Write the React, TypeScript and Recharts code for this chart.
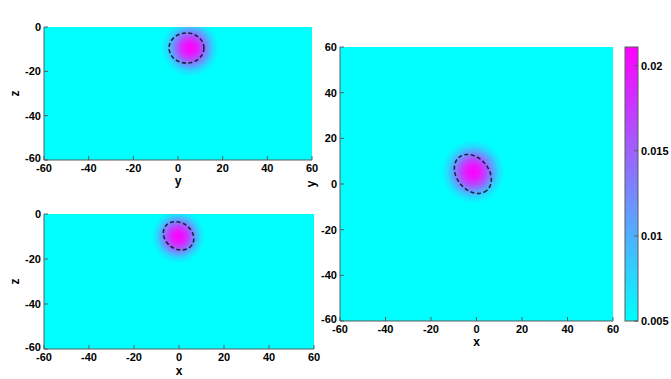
import React from 'react';
import { ScatterChart, Scatter, XAxis, YAxis, ReferenceArea } from 'recharts';

const FONT = '"Liberation Sans", Arial, Helvetica, sans-serif';
const FRAME = '#5a5a5a';

// ticks
const hTicks = [-60, -40, -20, 0, 20, 40, 60];
const zTicks = [-60, -40, -20, 0];
const yTicks = [-60, -40, -20, 0, 20, 40, 60];
const cbTicks = [0.005, 0.01, 0.015, 0.02];
const cbDomain = [0.005, 0.0211];

// panel texts
const titles = ['x=0 Plane', 'y=0 Plane', 'z=-10 Plane'];
const hNames = ['y', 'x', 'x'];
const vNames = ['z', 'z', 'y'];

// intensity blob (peak position and extent, data units)
const blobCH = [5.5, -0.3, -1.5];
const blobCV = [-9.5, -10, 5.3];
const blobR = [13, 12, 14];
const blobPeak = [0.0211, 0.0211, 0.0211];

// radial profile of the blob: relative radius -> value
const profileR = [0, 0.2, 0.4, 0.6, 0.8, 1];
const profileV = [0.0211, 0.0198, 0.0165, 0.0115, 0.0072, 0.005];

// dashed contour ellipses
const contourCH = [3.8, -0.2, -1.6];
const contourCV = [-9.5, -9.7, 4.4];
const contourA = [7.8, 7.2, 9.5];
const contourB = [6.8, 5.8, 7.0];
const contourAngle = [0, 35, 50];

const cool = (v: number) => {
  let t = (v - cbDomain[0]) / (cbDomain[1] - cbDomain[0]);
  t = Math.max(0, Math.min(1, t));
  return `rgb(${Math.round(255 * t)},${Math.round(255 * (1 - t))},255)`;
};

const tickStyle = { fill: '#000', fontSize: 11, fontWeight: 700, fontFamily: FONT };
const textStyle = { fill: '#000', fontSize: 11, fontWeight: 700, fontFamily: FONT };

const backgroundShape = (i: number) => (p: any) => {
  const { x, y, width, height } = p;
  return (
    <g>
      <defs>
        <clipPath id={`plotClip${i}`}>
          <rect x={x} y={y} width={width} height={height} />
        </clipPath>
      </defs>
      <rect x={x} y={y} width={width} height={height} fill={cool(cbDomain[0])} />
    </g>
  );
};

const blobShape = (i: number) => (p: any) => {
  const { x, y, width, height } = p;
  const id = `blobGrad${i}`;
  const peakScale = blobPeak[i] / profileV[0];
  return (
    <g clipPath={`url(#plotClip${i})`}>
      <defs>
        <radialGradient id={id} cx="50%" cy="50%" r="50%">
          {profileR.map((r, k) => (
            <stop key={k} offset={r} stopColor={cool(profileV[k] * (k === 0 ? peakScale : 1))} />
          ))}
        </radialGradient>
      </defs>
      <ellipse
        cx={x + width / 2}
        cy={y + height / 2}
        rx={Math.abs(width) / 2}
        ry={Math.abs(height) / 2}
        fill={`url(#${id})`}
      />
    </g>
  );
};

const contourShape = (i: number) => (p: any) => {
  const { x, y, width, height } = p;
  const cx = x + width / 2;
  const cy = y + height / 2;
  return (
    <g clipPath={`url(#plotClip${i})`}>
      <ellipse
        cx={cx}
        cy={cy}
        rx={Math.abs(width) / 2}
        ry={Math.abs(height) / 2}
        fill="none"
        stroke="#1c2340"
        strokeWidth={1.6}
        strokeDasharray="4 2.5"
        transform={`rotate(${contourAngle[i]} ${cx} ${cy})`}
      />
    </g>
  );
};

const colorbarShape = (p: any) => {
  const { x, y, width, height } = p;
  const span = cbDomain[1] - cbDomain[0];
  const stops = [cbDomain[0], ...cbTicks.slice(1), cbDomain[1]];
  return (
    <g>
      <defs>
        <linearGradient id="cbGrad" x1="0" y1="1" x2="0" y2="0">
          {stops.map((v, k) => (
            <stop key={k} offset={(v - cbDomain[0]) / span} stopColor={cool(v)} />
          ))}
        </linearGradient>
      </defs>
      <rect x={x} y={y} width={width} height={height} fill="url(#cbGrad)" stroke={FRAME} strokeWidth={1} />
    </g>
  );
};

const LeftTick = (props: any) => {
  const { x, y, payload, textAnchor } = props;
  const lift = payload.value === -60 ? -2 : 0;
  return (
    <text x={x} y={y + lift} dy="0.355em" textAnchor={textAnchor} style={tickStyle}>
      {payload.value}
    </text>
  );
};

type PanelProps = {
  i: number;
  left: number;
  top: number;
  width: number;
  height: number;
  margin: { top: number; right: number; bottom: number; left: number };
  vDomain: number[];
  vTicks: number[];
  titleOff: number;
  hOff: number;
  vOff: number;
};

function Panel({ i, left, top, width, height, margin, vDomain, vTicks, titleOff, hOff, vOff }: PanelProps) {
  const ext = [-60, 60];
  const bottomLabel = (p: any) => {
    const vb = p.viewBox;
    return (
      <text x={vb.x + vb.width / 2} y={vb.y + vb.height - hOff} textAnchor="middle" style={{ ...textStyle, fontSize: 12 }}>
        {hNames[i]}
      </text>
    );
  };
  const leftLabel = (p: any) => {
    const vb = p.viewBox;
    const lx = vb.x + vOff;
    const ly = vb.y + vb.height / 2;
    return (
      <text x={lx} y={ly} textAnchor="middle" transform={`rotate(-90 ${lx} ${ly})`} style={{ ...textStyle, fontSize: 12 }}>
        {vNames[i]}
      </text>
    );
  };
  const titleLabel = (p: any) => {
    const vb = p.viewBox;
    return (
      <text x={vb.x + vb.width / 2 - 1} y={vb.y - titleOff} textAnchor="middle" style={textStyle}>
        {titles[i]}
      </text>
    );
  };
  return (
    <div style={{ position: 'absolute', left, top, width, height }}>
      <ScatterChart width={width} height={height} margin={margin}>
        <ReferenceArea
          xAxisId="b"
          yAxisId="l"
          x1={ext[0]}
          x2={ext[1]}
          y1={vDomain[0]}
          y2={vDomain[1]}
          ifOverflow="hidden"
          shape={backgroundShape(i)}
        />
        <ReferenceArea
          xAxisId="b"
          yAxisId="l"
          x1={blobCH[i] - blobR[i]}
          x2={blobCH[i] + blobR[i]}
          y1={blobCV[i] - blobR[i]}
          y2={blobCV[i] + blobR[i]}
          ifOverflow="visible"
          shape={blobShape(i)}
        />
        <ReferenceArea
          xAxisId="b"
          yAxisId="l"
          x1={contourCH[i] - contourA[i]}
          x2={contourCH[i] + contourA[i]}
          y1={contourCV[i] - contourB[i]}
          y2={contourCV[i] + contourB[i]}
          ifOverflow="visible"
          shape={contourShape(i)}
        />
        <Scatter
          xAxisId="b"
          yAxisId="l"
          data={[{ h: blobCH[i], v: blobCV[i] }]}
          fill="none"
          isAnimationActive={false}
        />
        <XAxis
          xAxisId="b"
          type="number"
          dataKey="h"
          domain={ext}
          ticks={hTicks}
          interval={0}
          allowDataOverflow
          height={30}
          tickSize={-4}
          tickMargin={8}
          axisLine={{ stroke: FRAME }}
          tickLine={{ stroke: FRAME }}
          tick={tickStyle}
          label={bottomLabel}
        />
        <XAxis
          xAxisId="t"
          orientation="top"
          type="number"
          domain={ext}
          ticks={hTicks}
          interval={0}
          allowDataOverflow
          height={0}
          tickSize={-4}
          tick={false}
          axisLine={{ stroke: FRAME }}
          tickLine={{ stroke: FRAME }}
          label={titleLabel}
        />
        <YAxis
          yAxisId="l"
          type="number"
          dataKey="v"
          domain={vDomain}
          ticks={vTicks}
          interval={0}
          allowDataOverflow
          width={30}
          tickSize={-4}
          tickMargin={7}
          axisLine={{ stroke: FRAME }}
          tickLine={{ stroke: FRAME }}
          tick={<LeftTick />}
          label={leftLabel}
        />
        <YAxis
          yAxisId="r"
          orientation="right"
          type="number"
          domain={vDomain}
          ticks={vTicks}
          interval={0}
          allowDataOverflow
          width={0}
          tickSize={-4}
          tick={false}
          axisLine={{ stroke: FRAME }}
          tickLine={{ stroke: FRAME }}
        />
      </ScatterChart>
    </div>
  );
}

function Colorbar() {
  return (
    <div style={{ position: 'absolute', left: 600, top: 0, width: 71, height: 379 }}>
      <ScatterChart width={71} height={379} margin={{ top: 47, right: 0, bottom: 58, left: 25 }}>
        <ReferenceArea
          xAxisId="c"
          yAxisId="c"
          x1={0}
          x2={1}
          y1={cbDomain[0]}
          y2={cbDomain[1]}
          ifOverflow="visible"
          shape={colorbarShape}
        />
        <Scatter
          xAxisId="c"
          yAxisId="c"
          data={cbTicks.map((v) => ({ c: 0.5, v }))}
          fill="none"
          isAnimationActive={false}
        />
        <XAxis xAxisId="c" dataKey="c" type="number" domain={[0, 1]} allowDataOverflow hide />
        <YAxis
          yAxisId="c"
          dataKey="v"
          orientation="right"
          type="number"
          domain={cbDomain}
          ticks={cbTicks}
          interval={0}
          allowDataOverflow
          width={33}
          tickSize={-4}
          tickMargin={7}
          axisLine={false}
          tickLine={{ stroke: FRAME }}
          tick={tickStyle}
          tickFormatter={(v: number) => String(v)}
        />
      </ScatterChart>
    </div>
  );
}

export default function App() {
  return (
    <div style={{ position: 'absolute', left: 0, top: 0, width: 671, height: 379, background: '#fff', overflow: 'hidden' }}>
      <Panel
        i={0}
        left={0}
        top={0}
        width={330}
        height={190}
        margin={{ top: 27, right: 18, bottom: 0, left: 14 }}
        vDomain={[-60, 0]}
        vTicks={zTicks}
        titleOff={9.5}
        hOff={5}
        vOff={4.5}
      />
      <Panel
        i={1}
        left={0}
        top={190}
        width={330}
        height={189}
        margin={{ top: 24, right: 16, bottom: 0, left: 14 }}
        vDomain={[-60, 0]}
        vTicks={zTicks}
        titleOff={6.5}
        hOff={4}
        vOff={4.5}
      />
      <Panel
        i={2}
        left={300}
        top={0}
        width={371}
        height={379}
        margin={{ top: 47, right: 58, bottom: 28, left: 10 }}
        vDomain={[-60, 60]}
        vTicks={yTicks}
        titleOff={9.5}
        hOff={5}
        vOff={5}
      />
      <Colorbar />
    </div>
  );
}
